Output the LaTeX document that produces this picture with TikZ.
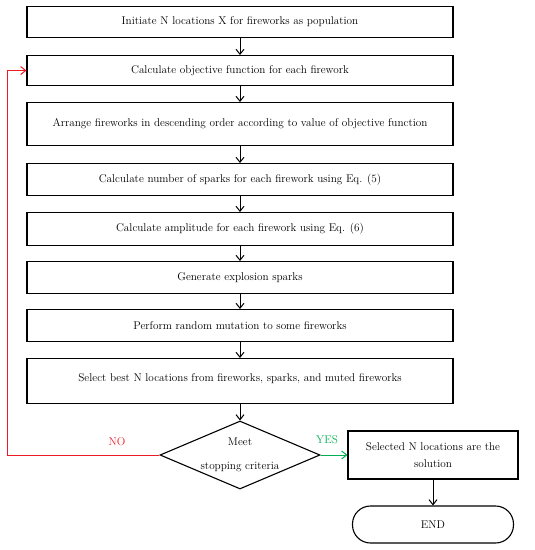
\documentclass[tikz,border=0pt]{standalone}
\usetikzlibrary{arrows.meta,shapes.geometric}
\definecolor{nored}{RGB}{237,28,36}
\definecolor{yesgreen}{RGB}{0,176,80}
\begin{document}
\begin{tikzpicture}[x=1pt,y=-1pt,
  font=\fontsize{11.2}{13}\selectfont,
  every node/.style={inner sep=0pt},
  procbox/.style={draw,line width=1.1pt,minimum width=426pt,anchor=north},
  arr/.style={-{Straight Barb[length=5pt,width=8pt]},line width=1pt}]
\useasboundingbox (0,0) rectangle (535,550);
\node[procbox,minimum height=31pt] (b1) at (240,6) {Initiate N locations X for fireworks as population};
\node[procbox,minimum height=30pt] (b2) at (240,55) {Calculate objective function for each firework};
\node[procbox,minimum height=43pt] (b3) at (240,102) {Arrange fireworks in descending order according to value of objective function};
\node[procbox,minimum height=32pt] (b4) at (240,163) {Calculate number of sparks for each firework using Eq. (5)};
\node[procbox,minimum height=33pt] (b5) at (240,212) {Calculate amplitude for each firework using Eq. (6)};
\node[procbox,minimum height=32pt] (b6) at (240,261) {Generate explosion sparks};
\node[procbox,minimum height=32pt] (b7) at (240,309) {Perform random mutation to some fireworks};
\node[procbox,minimum height=45pt] (b8) at (240,358) {\raisebox{7pt}{Select best N locations from fireworks, sparks, and muted fireworks}};
\node[draw,line width=1.1pt,diamond,aspect=2.35,minimum width=160pt,minimum height=68pt] (dia) at (240,455) {};
\node (diat) at (240,455) {\begin{tabular}{@{}c@{}}Meet\\[11pt]stopping criteria\end{tabular}};
\node[draw,line width=1.1pt,minimum width=170pt,minimum height=48pt,align=center] (sol) at (433,455) {Selected N locations are the\\[4pt]solution};
\node[draw,line width=1.1pt,minimum width=161pt,minimum height=37pt,rounded corners=18pt] (end) at (433,524.5) {END};
\coordinate (lc) at (7,455);
\foreach \a/\b in {b1/b2,b2/b3,b3/b4,b4/b5,b5/b6,b6/b7,b7/b8,b8/dia}
  \draw[arr] (\a.south) -- (\b.north);
\draw[arr] (sol.south) -- (end.north);
\draw[arr,nored] (dia.west) -- (lc) |- (b2.west);
\draw[arr,yesgreen] (dia.east) -- (sol.west);
\node[text=nored] (no) at (117,442) {NO};
\node[text=yesgreen] (yes) at (327,440) {YES};
\end{tikzpicture}
\end{document}
